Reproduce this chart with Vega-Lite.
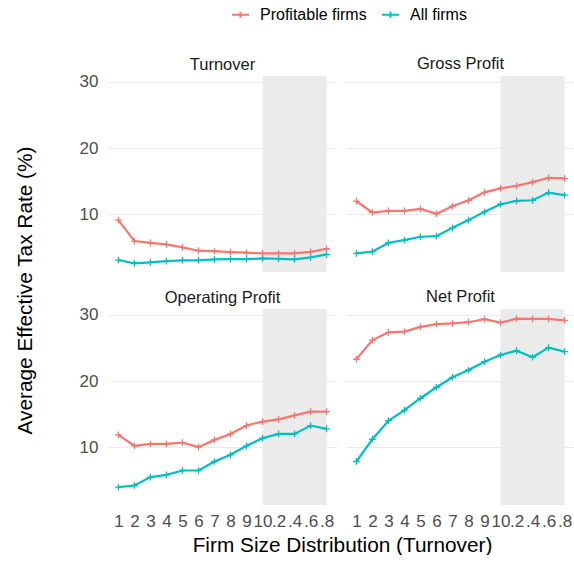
{
  "$schema": "https://vega.github.io/schema/vega-lite/v6.json",
  "padding": {"left": 14, "top": 5, "right": 0, "bottom": 0},
  "autosize": {"type": "pad"},
  "background": "#ffffff",
  "datasets": {
    "d": [
      {"panel":"Turnover","group":"Profitable firms","size":"1","rate":9.1},
      {"panel":"Turnover","group":"Profitable firms","size":"2","rate":5.93},
      {"panel":"Turnover","group":"Profitable firms","size":"3","rate":5.67},
      {"panel":"Turnover","group":"Profitable firms","size":"4","rate":5.42},
      {"panel":"Turnover","group":"Profitable firms","size":"5","rate":4.97},
      {"panel":"Turnover","group":"Profitable firms","size":"6","rate":4.47},
      {"panel":"Turnover","group":"Profitable firms","size":"7","rate":4.42},
      {"panel":"Turnover","group":"Profitable firms","size":"8","rate":4.27},
      {"panel":"Turnover","group":"Profitable firms","size":"9","rate":4.17},
      {"panel":"Turnover","group":"Profitable firms","size":"10","rate":4.07},
      {"panel":"Turnover","group":"Profitable firms","size":".2","rate":4.07},
      {"panel":"Turnover","group":"Profitable firms","size":".4","rate":4.07},
      {"panel":"Turnover","group":"Profitable firms","size":".6","rate":4.3},
      {"panel":"Turnover","group":"Profitable firms","size":".8","rate":4.77},
      {"panel":"Turnover","group":"All firms","size":"1","rate":3.06},
      {"panel":"Turnover","group":"All firms","size":"2","rate":2.56},
      {"panel":"Turnover","group":"All firms","size":"3","rate":2.71},
      {"panel":"Turnover","group":"All firms","size":"4","rate":2.9},
      {"panel":"Turnover","group":"All firms","size":"5","rate":3.0},
      {"panel":"Turnover","group":"All firms","size":"6","rate":3.0},
      {"panel":"Turnover","group":"All firms","size":"7","rate":3.16},
      {"panel":"Turnover","group":"All firms","size":"8","rate":3.21},
      {"panel":"Turnover","group":"All firms","size":"9","rate":3.2},
      {"panel":"Turnover","group":"All firms","size":"10","rate":3.3},
      {"panel":"Turnover","group":"All firms","size":".2","rate":3.25},
      {"panel":"Turnover","group":"All firms","size":".4","rate":3.15},
      {"panel":"Turnover","group":"All firms","size":".6","rate":3.46},
      {"panel":"Turnover","group":"All firms","size":".8","rate":3.92},
      {"panel":"Gross Profit","group":"Profitable firms","size":"1","rate":11.96},
      {"panel":"Gross Profit","group":"Profitable firms","size":"2","rate":10.25},
      {"panel":"Gross Profit","group":"Profitable firms","size":"3","rate":10.5},
      {"panel":"Gross Profit","group":"Profitable firms","size":"4","rate":10.5},
      {"panel":"Gross Profit","group":"Profitable firms","size":"5","rate":10.8},
      {"panel":"Gross Profit","group":"Profitable firms","size":"6","rate":10.05},
      {"panel":"Gross Profit","group":"Profitable firms","size":"7","rate":11.2},
      {"panel":"Gross Profit","group":"Profitable firms","size":"8","rate":12.1},
      {"panel":"Gross Profit","group":"Profitable firms","size":"9","rate":13.3},
      {"panel":"Gross Profit","group":"Profitable firms","size":"10","rate":13.9},
      {"panel":"Gross Profit","group":"Profitable firms","size":".2","rate":14.3},
      {"panel":"Gross Profit","group":"Profitable firms","size":".4","rate":14.85},
      {"panel":"Gross Profit","group":"Profitable firms","size":".6","rate":15.5},
      {"panel":"Gross Profit","group":"Profitable firms","size":".8","rate":15.4},
      {"panel":"Gross Profit","group":"All firms","size":"1","rate":4.07},
      {"panel":"Gross Profit","group":"All firms","size":"2","rate":4.32},
      {"panel":"Gross Profit","group":"All firms","size":"3","rate":5.67},
      {"panel":"Gross Profit","group":"All firms","size":"4","rate":6.08},
      {"panel":"Gross Profit","group":"All firms","size":"5","rate":6.58},
      {"panel":"Gross Profit","group":"All firms","size":"6","rate":6.68},
      {"panel":"Gross Profit","group":"All firms","size":"7","rate":7.93},
      {"panel":"Gross Profit","group":"All firms","size":"8","rate":9.1},
      {"panel":"Gross Profit","group":"All firms","size":"9","rate":10.35},
      {"panel":"Gross Profit","group":"All firms","size":"10","rate":11.5},
      {"panel":"Gross Profit","group":"All firms","size":".2","rate":12.0},
      {"panel":"Gross Profit","group":"All firms","size":".4","rate":12.1},
      {"panel":"Gross Profit","group":"All firms","size":".6","rate":13.27},
      {"panel":"Gross Profit","group":"All firms","size":".8","rate":12.87},
      {"panel":"Operating Profit","group":"Profitable firms","size":"1","rate":11.86},
      {"panel":"Operating Profit","group":"Profitable firms","size":"2","rate":10.2},
      {"panel":"Operating Profit","group":"Profitable firms","size":"3","rate":10.5},
      {"panel":"Operating Profit","group":"Profitable firms","size":"4","rate":10.5},
      {"panel":"Operating Profit","group":"Profitable firms","size":"5","rate":10.7},
      {"panel":"Operating Profit","group":"Profitable firms","size":"6","rate":10.0},
      {"panel":"Operating Profit","group":"Profitable firms","size":"7","rate":11.1},
      {"panel":"Operating Profit","group":"Profitable firms","size":"8","rate":12.0},
      {"panel":"Operating Profit","group":"Profitable firms","size":"9","rate":13.27},
      {"panel":"Operating Profit","group":"Profitable firms","size":"10","rate":13.87},
      {"panel":"Operating Profit","group":"Profitable firms","size":".2","rate":14.2},
      {"panel":"Operating Profit","group":"Profitable firms","size":".4","rate":14.8},
      {"panel":"Operating Profit","group":"Profitable firms","size":".6","rate":15.38},
      {"panel":"Operating Profit","group":"Profitable firms","size":".8","rate":15.38},
      {"panel":"Operating Profit","group":"All firms","size":"1","rate":3.96},
      {"panel":"Operating Profit","group":"All firms","size":"2","rate":4.2},
      {"panel":"Operating Profit","group":"All firms","size":"3","rate":5.47},
      {"panel":"Operating Profit","group":"All firms","size":"4","rate":5.8},
      {"panel":"Operating Profit","group":"All firms","size":"5","rate":6.47},
      {"panel":"Operating Profit","group":"All firms","size":"6","rate":6.47},
      {"panel":"Operating Profit","group":"All firms","size":"7","rate":7.83},
      {"panel":"Operating Profit","group":"All firms","size":"8","rate":8.84},
      {"panel":"Operating Profit","group":"All firms","size":"9","rate":10.2},
      {"panel":"Operating Profit","group":"All firms","size":"10","rate":11.36},
      {"panel":"Operating Profit","group":"All firms","size":".2","rate":12.0},
      {"panel":"Operating Profit","group":"All firms","size":".4","rate":12.0},
      {"panel":"Operating Profit","group":"All firms","size":".6","rate":13.27},
      {"panel":"Operating Profit","group":"All firms","size":".8","rate":12.77},
      {"panel":"Net Profit","group":"Profitable firms","size":"1","rate":23.3},
      {"panel":"Net Profit","group":"Profitable firms","size":"2","rate":26.2},
      {"panel":"Net Profit","group":"Profitable firms","size":"3","rate":27.37},
      {"panel":"Net Profit","group":"Profitable firms","size":"4","rate":27.47},
      {"panel":"Net Profit","group":"Profitable firms","size":"5","rate":28.2},
      {"panel":"Net Profit","group":"Profitable firms","size":"6","rate":28.6},
      {"panel":"Net Profit","group":"Profitable firms","size":"7","rate":28.74},
      {"panel":"Net Profit","group":"Profitable firms","size":"8","rate":28.9},
      {"panel":"Net Profit","group":"Profitable firms","size":"9","rate":29.35},
      {"panel":"Net Profit","group":"Profitable firms","size":"10","rate":28.84},
      {"panel":"Net Profit","group":"Profitable firms","size":".2","rate":29.43},
      {"panel":"Net Profit","group":"Profitable firms","size":".4","rate":29.4},
      {"panel":"Net Profit","group":"Profitable firms","size":".6","rate":29.4},
      {"panel":"Net Profit","group":"Profitable firms","size":".8","rate":29.18},
      {"panel":"Net Profit","group":"All firms","size":"1","rate":7.83},
      {"panel":"Net Profit","group":"All firms","size":"2","rate":11.2},
      {"panel":"Net Profit","group":"All firms","size":"3","rate":14.0},
      {"panel":"Net Profit","group":"All firms","size":"4","rate":15.6},
      {"panel":"Net Profit","group":"All firms","size":"5","rate":17.4},
      {"panel":"Net Profit","group":"All firms","size":"6","rate":19.06},
      {"panel":"Net Profit","group":"All firms","size":"7","rate":20.57},
      {"panel":"Net Profit","group":"All firms","size":"8","rate":21.67},
      {"panel":"Net Profit","group":"All firms","size":"9","rate":22.93},
      {"panel":"Net Profit","group":"All firms","size":"10","rate":23.94},
      {"panel":"Net Profit","group":"All firms","size":".2","rate":24.6},
      {"panel":"Net Profit","group":"All firms","size":".4","rate":23.6},
      {"panel":"Net Profit","group":"All firms","size":".6","rate":25.05},
      {"panel":"Net Profit","group":"All firms","size":".8","rate":24.45}
    ]
  },
  "data": {"name": "d"},
  "columns": 2,
  "spacing": {"row": 37, "column": 9},
  "bounds": "flush",
  "resolve": {"scale": {"x": "independent", "y": "independent"}},
  "config": {
    "font": "Liberation Sans",
    "view": {"stroke": null},
    "axis": {"domain": false, "ticks": false, "grid": false, "labelColor": "#4d4d4d", "labelFontSize": 17, "titleFontSize": 20.8, "titleColor": "#000000", "titleFontWeight": "normal"},
    "axisY": {"grid": true, "gridColor": "#ebebeb", "gridWidth": 1},
    "title": {"fontSize": 16.5, "fontWeight": "normal", "color": "#1a1a1a", "anchor": "middle", "frame": "group", "offset": 0, "baseline": "alphabetic"},
    "legend": {"title": null, "orient": "none", "legendX": 123, "legendY": -71, "direction": "horizontal", "symbolType": "M-1,0H1M0,-0.35V0.35", "symbolSize": 289, "symbolStrokeWidth": 2, "labelFontSize": 16, "labelColor": "#000000", "labelOffset": 10, "columnPadding": 11}
  },
  "concat": [
    {
      "width": 229, "height": 196,
      "title": {"text": "Turnover", "dy": 5},
      "transform": [{"filter": "datum.panel === 'Turnover'"}],
      "encoding": {
        "x": {"field": "size", "type": "ordinal", "scale": {"type": "point", "domain": ["1","2","3","4","5","6","7","8","9","10",".2",".4",".6",".8"], "padding": 0.65}, "axis": {"labels": false, "title": null}},
        "y": {"field": "rate", "type": "quantitative", "scale": {"domain": [1.25, 30.9], "nice": false, "zero": false}, "axis": {"values": [10, 20, 30], "labelPadding": 10, "title": "Average Effective Tax Rate (%)", "titleY": 214, "titlePadding": 44}}
      },
      "layer": [
        {"transform": [{"filter": "datum.group === 'All firms' && datum.size === '10'"}], "mark": {"type": "rect", "color": "#ebebeb"}, "encoding": {"x2": {"datum": ".8"}, "y": {"datum": 30.9, "type": "quantitative", "scale": {"domain": [1.25, 30.9], "nice": false, "zero": false}, "axis": {"values": [10, 20, 30], "labelPadding": 10, "title": "Average Effective Tax Rate (%)", "titleY": 214, "titlePadding": 44}}, "y2": {"datum": 1.25}}},
        {"mark": {"type": "line", "strokeWidth": 2.2}, "encoding": {"color": {"field": "group", "type": "nominal", "scale": {"domain": ["Profitable firms", "All firms"], "range": ["#F8766D", "#00BFC4"]}}}},
        {"mark": {"type": "point", "shape": "M-1,0H1M0,-1V1", "filled": false, "size": 45, "strokeWidth": 1.3, "opacity": 1}, "encoding": {"color": {"field": "group", "type": "nominal", "scale": {"domain": ["Profitable firms", "All firms"], "range": ["#F8766D", "#00BFC4"]}}}}
      ]
    },
    {
      "width": 229, "height": 196,
      "title": "Gross Profit",
      "transform": [{"filter": "datum.panel === 'Gross Profit'"}],
      "encoding": {
        "x": {"field": "size", "type": "ordinal", "scale": {"type": "point", "domain": ["1","2","3","4","5","6","7","8","9","10",".2",".4",".6",".8"], "padding": 0.65}, "axis": {"labels": false, "title": null}},
        "y": {"field": "rate", "type": "quantitative", "scale": {"domain": [1.25, 30.9], "nice": false, "zero": false}, "axis": {"values": [10, 20, 30], "labels": false, "title": null}}
      },
      "layer": [
        {"transform": [{"filter": "datum.group === 'All firms' && datum.size === '10'"}], "mark": {"type": "rect", "color": "#ebebeb"}, "encoding": {"x2": {"datum": ".8"}, "y": {"datum": 30.9, "type": "quantitative", "scale": {"domain": [1.25, 30.9], "nice": false, "zero": false}, "axis": {"values": [10, 20, 30], "labels": false, "title": null}}, "y2": {"datum": 1.25}}},
        {"mark": {"type": "line", "strokeWidth": 2.2}, "encoding": {"color": {"field": "group", "type": "nominal", "scale": {"domain": ["Profitable firms", "All firms"], "range": ["#F8766D", "#00BFC4"]}}}},
        {"mark": {"type": "point", "shape": "M-1,0H1M0,-1V1", "filled": false, "size": 45, "strokeWidth": 1.3, "opacity": 1}, "encoding": {"color": {"field": "group", "type": "nominal", "scale": {"domain": ["Profitable firms", "All firms"], "range": ["#F8766D", "#00BFC4"]}}}}
      ]
    },
    {
      "width": 229, "height": 196,
      "title": {"text": "Operating Profit", "dy": 5},
      "transform": [{"filter": "datum.panel === 'Operating Profit'"}],
      "encoding": {
        "x": {"field": "size", "type": "ordinal", "scale": {"type": "point", "domain": ["1","2","3","4","5","6","7","8","9","10",".2",".4",".6",".8"], "padding": 0.65}, "axis": {"labelAngle": 0, "labelPadding": 8, "title": "Firm Size Distribution (Turnover)", "titleX": 234, "titlePadding": 6}},
        "y": {"field": "rate", "type": "quantitative", "scale": {"domain": [1.25, 30.9], "nice": false, "zero": false}, "axis": {"values": [10, 20, 30], "labelPadding": 10, "title": null}}
      },
      "layer": [
        {"transform": [{"filter": "datum.group === 'All firms' && datum.size === '10'"}], "mark": {"type": "rect", "color": "#ebebeb"}, "encoding": {"x2": {"datum": ".8"}, "y": {"datum": 30.9, "type": "quantitative", "scale": {"domain": [1.25, 30.9], "nice": false, "zero": false}, "axis": {"values": [10, 20, 30], "labelPadding": 10, "title": null}}, "y2": {"datum": 1.25}}},
        {"mark": {"type": "line", "strokeWidth": 2.2}, "encoding": {"color": {"field": "group", "type": "nominal", "scale": {"domain": ["Profitable firms", "All firms"], "range": ["#F8766D", "#00BFC4"]}}}},
        {"mark": {"type": "point", "shape": "M-1,0H1M0,-1V1", "filled": false, "size": 45, "strokeWidth": 1.3, "opacity": 1}, "encoding": {"color": {"field": "group", "type": "nominal", "scale": {"domain": ["Profitable firms", "All firms"], "range": ["#F8766D", "#00BFC4"]}}}}
      ]
    },
    {
      "width": 229, "height": 196,
      "title": "Net Profit",
      "transform": [{"filter": "datum.panel === 'Net Profit'"}],
      "encoding": {
        "x": {"field": "size", "type": "ordinal", "scale": {"type": "point", "domain": ["1","2","3","4","5","6","7","8","9","10",".2",".4",".6",".8"], "padding": 0.65}, "axis": {"labelAngle": 0, "labelPadding": 8, "title": null}},
        "y": {"field": "rate", "type": "quantitative", "scale": {"domain": [1.25, 30.9], "nice": false, "zero": false}, "axis": {"values": [10, 20, 30], "labels": false, "title": null}}
      },
      "layer": [
        {"transform": [{"filter": "datum.group === 'All firms' && datum.size === '10'"}], "mark": {"type": "rect", "color": "#ebebeb"}, "encoding": {"x2": {"datum": ".8"}, "y": {"datum": 30.9, "type": "quantitative", "scale": {"domain": [1.25, 30.9], "nice": false, "zero": false}, "axis": {"values": [10, 20, 30], "labels": false, "title": null}}, "y2": {"datum": 1.25}}},
        {"mark": {"type": "line", "strokeWidth": 2.2}, "encoding": {"color": {"field": "group", "type": "nominal", "scale": {"domain": ["Profitable firms", "All firms"], "range": ["#F8766D", "#00BFC4"]}}}},
        {"mark": {"type": "point", "shape": "M-1,0H1M0,-1V1", "filled": false, "size": 45, "strokeWidth": 1.3, "opacity": 1}, "encoding": {"color": {"field": "group", "type": "nominal", "scale": {"domain": ["Profitable firms", "All firms"], "range": ["#F8766D", "#00BFC4"]}}}}
      ]
    }
  ]
}
